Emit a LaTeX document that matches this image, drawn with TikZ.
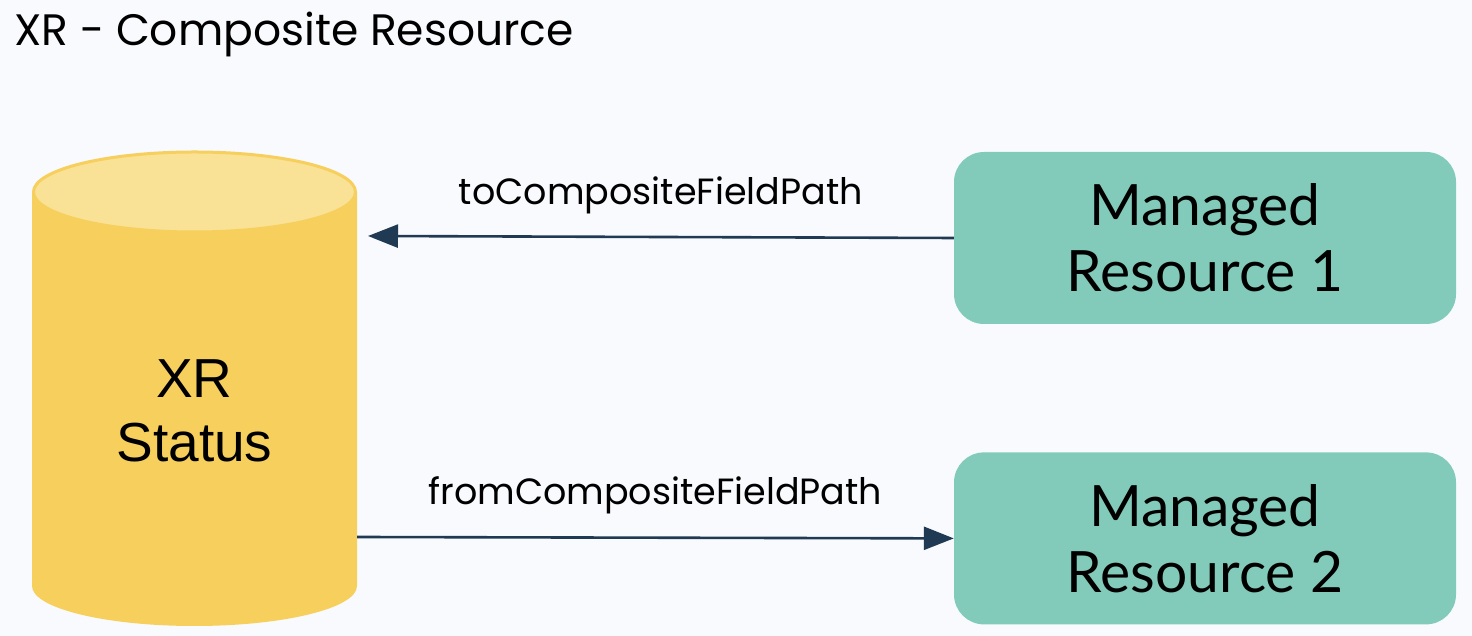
\documentclass[tikz,border=0pt]{standalone}
\usepackage{fontspec}
\setmainfont{Poppins}
\newfontfamily\xrfont{Liberation Sans}
\newfontfamily\mrfont{Lato}
\usetikzlibrary{arrows.meta,positioning}
\definecolor{bgcol}{HTML}{F8FAFE}
\definecolor{cylbody}{HTML}{F7CF5C}
\definecolor{cyltop}{HTML}{F9E196}
\definecolor{mrgreen}{HTML}{82CBBA}
\definecolor{flowcol}{HTML}{1F3A52}
\begin{document}
\begin{tikzpicture}[x=1pt, y=1pt,
  mr/.style = {fill=mrgreen, rounded corners=30pt, minimum width=502pt, minimum height=172pt, align=center, font=\mrfont\fontsize{57}{66}\selectfont},
  flow/.style = {draw=flowcol, line width=2.6pt, -{Triangle[length=30pt, width=23pt]}},
  lbl/.style = {font=\fontsize{36.5}{42}\selectfont, anchor=base}]
	\fill[bgcol] (0,0) rectangle (1472,636);
	\useasboundingbox (0,0) rectangle (1472,636);
	\node[anchor=base west, font=\fontsize{44}{52}\selectfont, inner sep=0pt] (title) at (14,590) {XR - Composite Resource};
	% XR status cylinder
	\fill[cylbody] (32,444) -- (32,50) arc[start angle=180, end angle=360, x radius=162.5, y radius=40] -- (357,444) -- cycle;
	\filldraw[fill=cyltop, draw=cylbody, line width=3pt] (194.5,444) ellipse[x radius=161, y radius=40];
	\node[align=center, font=\xrfont\fontsize{55}{64}\selectfont] (xr) at (194.5,225) {XR\\Status};
	\coordinate (xrin) at (368,400);
	\coordinate (xrout) at (357,99);
	% managed resources
	\node[mr] (mr1) at (1205,398) {Managed\\Resource 1};
	\node[mr] (mr2) [below=128pt of mr1] {Managed\\Resource 2};
	\draw[flow] (mr1.west) -- node[lbl, midway, yshift=32pt] {toCompositeFieldPath} (xrin);
	\draw[flow] (xrout) -- node[lbl, midway, yshift=33pt] {fromCompositeFieldPath} (mr2.west);
\end{tikzpicture}
\end{document}
